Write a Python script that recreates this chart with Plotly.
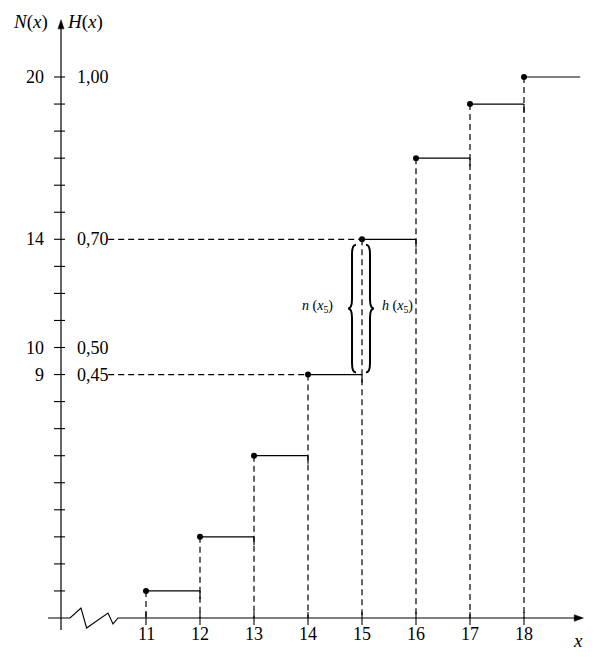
import plotly.graph_objects as go

# ---- data ----
x_vals = [11, 12, 13, 14, 15, 16, 17, 18]
N_vals = [1, 3, 6, 9, 14, 17, 19, 20]
x_end = 19.04
y_ticks = list(range(1, 21))
N_labels = [9, 10, 14, 20]
H_labels = ["0,45", "0,50", "0,70", "1,00"]
dashed_levels = [9, 14]          # N levels with horizontal guide lines
dashed_to = [14, 15]             # x where those guides end

FONT = "Liberation Serif"
BLACK = "#000000"

fig = go.Figure()

# step segments
for i, (xv, nv) in enumerate(zip(x_vals, N_vals)):
    xr = x_vals[i + 1] if i + 1 < len(x_vals) else x_end
    fig.add_trace(go.Scatter(x=[xv, xr], y=[nv, nv], mode="lines",
                             line=dict(color=BLACK, width=1.2), hoverinfo="skip"))
    if i + 1 < len(x_vals):
        # small solid end tick
        fig.add_trace(go.Scatter(x=[xr, xr], y=[nv, nv - 0.3], mode="lines",
                                 line=dict(color=BLACK, width=1.2), hoverinfo="skip"))
    # dashed vertical to axis
    fig.add_trace(go.Scatter(x=[xv, xv], y=[nv, 0], mode="lines",
                             line=dict(color=BLACK, width=1.2, dash="6px,4px"), hoverinfo="skip"))

# horizontal dashed guides
for lv, xe in zip(dashed_levels, dashed_to):
    fig.add_trace(go.Scatter(x=[10.30, xe], y=[lv, lv], mode="lines",
                             line=dict(color=BLACK, width=1.2, dash="6px,4px"), hoverinfo="skip"))

# points
fig.add_trace(go.Scatter(x=x_vals, y=N_vals, mode="markers",
                         marker=dict(color=BLACK, size=6), hoverinfo="skip"))

# y axis line
fig.add_trace(go.Scatter(x=[9.426, 9.426], y=[-0.44, 21.9], mode="lines",
                         line=dict(color=BLACK, width=1.2), hoverinfo="skip"))
# y ticks
for t in y_ticks:
    fig.add_trace(go.Scatter(x=[9.296, 9.50], y=[t, t], mode="lines",
                             line=dict(color=BLACK, width=1.1), hoverinfo="skip"))
# x axis line with zigzag break
fig.add_trace(go.Scatter(x=[9.185, 9.593, 9.796, 9.90, 10.296, 10.389, 10.481, 19.0],
                         y=[0, 0, 0.37, -0.37, 0.185, -0.22, 0, 0], mode="lines",
                         line=dict(color=BLACK, width=1.1), hoverinfo="skip"))
# x ticks
for xv in x_vals:
    fig.add_trace(go.Scatter(x=[xv, xv], y=[0.22, -0.26], mode="lines",
                             line=dict(color=BLACK, width=1.1), hoverinfo="skip"))

shapes = []
# arrow heads
shapes.append(dict(type="path", xref="x", yref="y",
                   path="M 9.426 22.12 L 9.37 21.78 L 9.482 21.78 Z",
                   fillcolor=BLACK, line=dict(color=BLACK, width=0.5)))
shapes.append(dict(type="path", xref="x", yref="y",
                   path="M 19.10 0 L 18.93 0.12 L 18.93 -0.12 Z",
                   fillcolor=BLACK, line=dict(color=BLACK, width=0.5)))

# braces
def brace(xe, xs, xt, yb, yt, r=0.35):
    ym = (yb + yt) / 2
    return (f"M {xe} {yt} Q {xs} {yt} {xs} {yt - r} L {xs} {ym + r} "
            f"Q {xs} {ym} {xt} {ym} Q {xs} {ym} {xs} {ym - r} "
            f"L {xs} {yb + r} Q {xs} {yb} {xe} {yb}")

shapes.append(dict(type="path", xref="x", yref="y",
                   path=brace(14.889, 14.815, 14.741, 9.08, 13.8),
                   line=dict(color=BLACK, width=2)))
shapes.append(dict(type="path", xref="x", yref="y",
                   path=brace(15.074, 15.148, 15.222, 9.08, 13.8),
                   line=dict(color=BLACK, width=2)))

ann = []
def txt(x, y, s, size=18, xa="center", ya="middle"):
    ann.append(dict(x=x, y=y, xref="x", yref="y", text=s, showarrow=False,
                    xanchor=xa, yanchor=ya, font=dict(family=FONT, size=size, color=BLACK)))

for n, h in zip(N_labels, H_labels):
    txt(9.15, n, str(n), xa="right")
    txt(9.68, n, h, xa="left")
for xv in x_vals:
    txt(xv, -0.58, str(xv))
txt(8.87, 22.05, "<i>N</i>(<i>x</i>)", size=19)
txt(9.87, 22.05, "<i>H</i>(<i>x</i>)", size=19)
txt(19.0, -0.85, "<i>x</i>", size=19)
txt(14.17, 11.5, "<i>n</i> (<i>x</i><sub>5</sub>)", size=14)
txt(15.65, 11.5, "<i>h</i> (<i>x</i><sub>5</sub>)", size=14)

# the page body adds an 8px offset; ranges below map page pixels to data
fig.update_layout(
    width=587, height=649,
    margin=dict(l=0, r=0, t=0, b=0),
    paper_bgcolor="white", plot_bgcolor="white",
    showlegend=False,
    xaxis=dict(range=[8.4444, 19.3148], visible=False, fixedrange=True),
    yaxis=dict(range=[-1.442, 22.551], visible=False, fixedrange=True),
    shapes=shapes, annotations=ann,
)
fig.write_html("out.html")
